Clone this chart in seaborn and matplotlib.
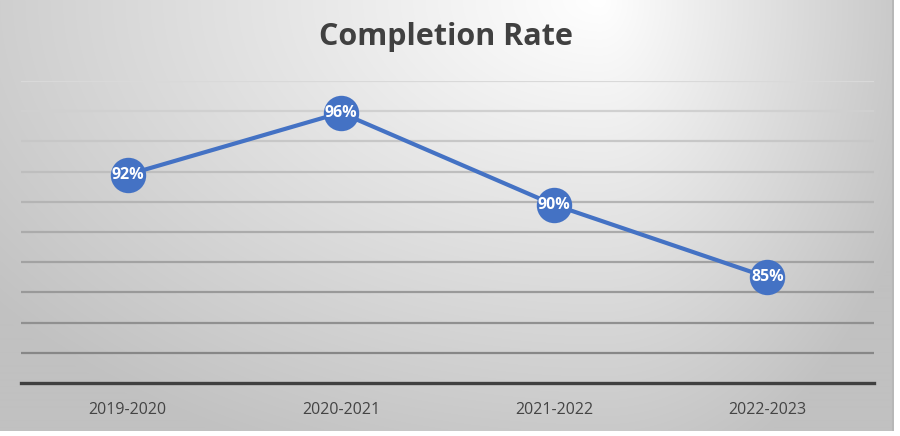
import numpy as np
import matplotlib
matplotlib.use("Agg")
import matplotlib.pyplot as plt
import seaborn as sns
import pandas as pd

# datos
temporadas = ["2019-2020", "2020-2021", "2021-2022", "2022-2023"]
tasas = [91.8, 95.9, 89.8, 85.0]
etiquetas = ["92%", "96%", "90%", "85%"]
titulo = "Completion Rate"

AZUL = "#4472C4"

sns.set_theme(style="white")
plt.rcParams["font.family"] = ["Open Sans", "DejaVu Sans"]

W, H = 900, 436
fig = plt.figure(figsize=(W / 100, H / 100), dpi=100)
fig.patch.set_facecolor("white")

# fondo con degradado radial (area del grafico)
fondo = fig.add_axes([0, 0, 1, 1])
xx, yy = np.meshgrid(np.arange(W), np.arange(H))
dx = xx - 600.0
sx = np.where(dx < 0, 750.0, 330.0)
t = np.sqrt((dx / sx) ** 2 + (yy / 480.0) ** 2)
gris = 255 - np.minimum(60 * t, 62)
img = np.dstack([gris, gris, gris]) / 255.0
img[(xx > 893) | (yy > 430)] = 1.0
img[(xx >= 892) & (xx <= 893) & (yy <= 430)] = 0.72
fondo.imshow(img, extent=[0, W, H, 0], aspect="auto", interpolation="bilinear")
fondo.set_xlim(0, W)
fondo.set_ylim(H, 0)
fondo.axis("off")

ax = fig.add_axes([21 / W, (H - 383) / H, (874 - 21) / W, (383 - 81) / H])
ax.patch.set_alpha(0)

df = pd.DataFrame({"temporada": temporadas, "tasa": tasas})

# lineas de cuadricula con tono que se oscurece hacia abajo
niveles = np.arange(80, 99, 2)
for v in niveles:
    f = (v - 80) / 18
    c = 0.53 + f * (0.85 - 0.53)
    ax.axhline(v, color=(c, c, c), lw=1.6, zorder=0)

sns.lineplot(data=df, x="temporada", y="tasa", ax=ax, color=AZUL, lw=3,
             marker="o", markersize=25.5, markeredgewidth=0, sort=False, zorder=3)

for i, (v, et) in enumerate(zip(tasas, etiquetas)):
    ax.annotate(et, (i, v), ha="center", va="center", color="white",
                fontsize=11.5, fontweight="bold", zorder=4)

ax.set_xlim(-0.5, len(temporadas) - 0.5)
ax.set_ylim(78, 98)
ax.set_yticks([])
ax.set_xlabel("")
ax.set_ylabel("")
ax.tick_params(axis="x", length=0, pad=14, labelsize=11.5, labelcolor="#444444")
for lado in ["top", "right", "left"]:
    ax.spines[lado].set_visible(False)
ax.spines["bottom"].set_color("#404040")
ax.spines["bottom"].set_linewidth(2.4)

fig.text(446 / W, 1 - 37 / H, titulo, ha="center", va="center",
         fontsize=22, fontweight="bold", color="#404040")

fig.savefig("out.png", dpi=100)
